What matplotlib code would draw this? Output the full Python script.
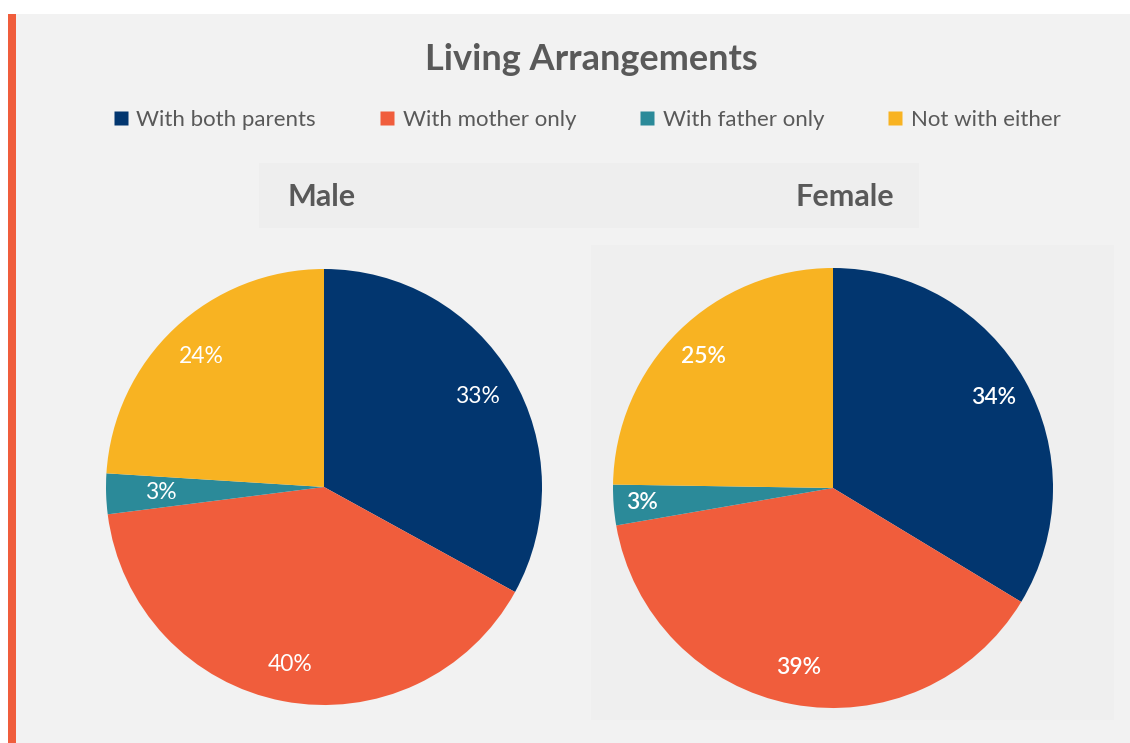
import numpy as np
import matplotlib
matplotlib.use("Agg")
import matplotlib.pyplot as plt
from matplotlib.lines import Line2D
from matplotlib.patches import Rectangle

plt.rcParams["font.family"] = ["Lato", "DejaVu Sans"]

# data
categories = ["With both parents", "With mother only", "With father only", "Not with either"]
male_pct = [33, 40, 3, 24]
female_pct = [34, 39, 3, 25]
panel_titles = ["Male", "Female"]
chart_title = "Living Arrangements"

COLORS = ["#02366F", "#F05D3C", "#2B8A99", "#F8B322"]
BG = "#F2F2F2"
TEXT = "#595959"

W, H = 1130, 743
fig = plt.figure(figsize=(W / 100, H / 100), dpi=100)
fig.patch.set_facecolor("white")


def px_rect(x0, y0, x1, y1):
    # pixel box (top-left origin) -> figure fraction rect
    return [x0 / W, 1 - y1 / H, (x1 - x0) / W, (y1 - y0) / H]


def add_box(x0, y0, x1, y1, color):
    l, b, w, h = px_rect(x0, y0, x1, y1)
    fig.patches.append(Rectangle((l, b), w, h, transform=fig.transFigure,
                                 facecolor=color, edgecolor="none", zorder=-1))


# background panels
add_box(16, 14, W, H, BG)
add_box(8, 14, 16, H, "#F05D3C")
add_box(259, 163, 919, 228, "#EEEEEE")
add_box(591, 245, 1114, 720, "#EFEFEF")

fig.text(591 / W, 1 - 60 / H, chart_title, ha="center", va="center",
         fontsize=26, fontweight="bold", color=TEXT)

handles = [Line2D([], [], marker="s", linestyle="none", markersize=10.5,
                  markerfacecolor=c, markeredgecolor="none") for c in COLORS]
fig.legend(handles, categories, loc="center", bbox_to_anchor=(587 / W, 1 - 119.5 / H),
           ncol=4, frameon=False, fontsize=16, labelcolor=TEXT,
           handlelength=0.7, handletextpad=0.35, columnspacing=2.85)

panels = [
    (male_pct, 324, 487, 218, [0.82, 0.83, 0.75, 0.82], "normal", 322),
    (female_pct, 833, 488, 220, [0.84, 0.83, 0.87, 0.84], "semibold", 845),
]

for (vals, cx, cy, r, lab_r, weight, tx), title in zip(panels, panel_titles):
    ax = fig.add_axes(px_rect(cx - r, cy - r, cx + r, cy + r))
    wedges, _ = ax.pie(vals, colors=COLORS, startangle=90, counterclock=False,
                       wedgeprops=dict(linewidth=0))
    ax.set_xlim(-1, 1)
    ax.set_ylim(-1, 1)
    ax.set_aspect("equal")
    ax.axis("off")
    for wdg, v, lr in zip(wedges, vals, lab_r):
        ang = np.deg2rad((wdg.theta1 + wdg.theta2) / 2)
        ax.text(lr * np.cos(ang), lr * np.sin(ang), f"{v}%", ha="center", va="center",
                fontsize=16.5, color="white", fontweight=weight)
    fig.text(tx / W, 1 - 197 / H, title, ha="center", va="center",
             fontsize=22, fontweight="bold", color=TEXT)

fig.savefig("out.png", dpi=100)
